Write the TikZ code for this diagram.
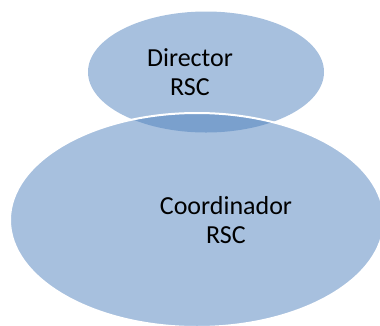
\documentclass[tikz,border=0pt]{standalone}
\usepackage{fontspec}
\setmainfont{Carlito}
\usepackage{tikz}
\usetikzlibrary{shapes.geometric}
\definecolor{blobblue}{HTML}{4F81BD}

\begin{document}
\begin{tikzpicture}[
                node distance=148pt,          % 上下两个椭圆的间距
                blob/.style={
                    ellipse,
                    fill=blobblue,
                    fill opacity=0.5,         % 半透明, 重叠处变深
                    inner sep=0pt
                },
                txt/.style={
                    align=center,
                    text=black,
                    font=\fontsize{26}{29.5}\selectfont
                }
            ]
                \useasboundingbox (0,0) rectangle (380pt,-325pt);

                % 椭圆
                \node[blob, minimum width=236pt, minimum height=121pt] (dir) at (206pt,-72pt) {};
                \node[blob, draw=white, line width=2pt, minimum width=374pt, minimum height=214pt] (coord) [below of=dir, xshift=-9pt] {};  % 白色边框

                % 文字
                \node[txt] (dirtxt) at ([xshift=-16pt]dir.center) {Director\\RSC};
                \node[txt] (coordtxt) at ([xshift=29pt]coord.center) {Coordinador\\RSC};
            \end{tikzpicture}
\end{document}
